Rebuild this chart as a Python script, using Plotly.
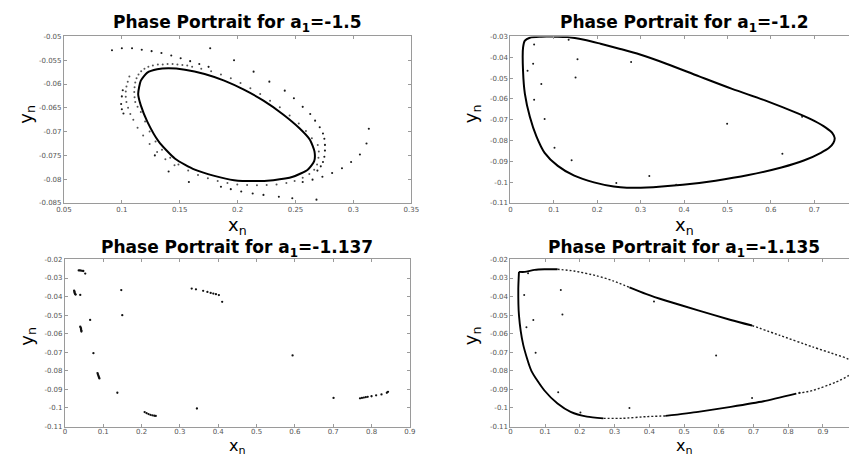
import plotly.graph_objects as go

W, H = 857, 459

# ---------------- data ----------------
TITLES = [
    "Phase Portrait for a<sub>1</sub>=-1.5",
    "Phase Portrait for a<sub>1</sub>=-1.2",
    "Phase Portrait for a<sub>1</sub>=-1.137",
    "Phase Portrait for a<sub>1</sub>=-1.135",
]

# a1 = -1.5 : invariant curve and the spiralling transient
TL_CURVE = [
    (0.1141, -0.0621), (0.1164, -0.0593), (0.1220, -0.0576), (0.1305, -0.0569),
    (0.1404, -0.0567), (0.1545, -0.0570), (0.1715, -0.0579), (0.1884, -0.0593),
    (0.2054, -0.0612), (0.2223, -0.0635), (0.2393, -0.0664), (0.2534, -0.0693),
    (0.2624, -0.0717), (0.2664, -0.0742), (0.2661, -0.0762), (0.2605, -0.0780),
    (0.2477, -0.0795), (0.2308, -0.0802), (0.2138, -0.0804), (0.1969, -0.0802),
    (0.1799, -0.0793), (0.1630, -0.0780), (0.1460, -0.0757), (0.1319, -0.0721),
    (0.1220, -0.0679), (0.1164, -0.0645), (0.1141, -0.0621),
]
TL_NEAR_RING = [
    (0.1116, -0.0638), (0.1110, -0.0628), (0.1107, -0.0617), (0.1110, -0.0607),
    (0.1116, -0.0597), (0.1127, -0.0588), (0.1144, -0.0580), (0.1167, -0.0573),
    (0.1195, -0.0568), (0.1229, -0.0564), (0.1268, -0.0561), (0.1311, -0.0559),
    (0.1353, -0.0559), (0.1395, -0.0558), (0.1438, -0.0558), (0.1480, -0.0559),
    (0.1523, -0.0560), (0.1565, -0.0561), (0.1607, -0.0564), (0.1686, -0.0568),
    (0.1771, -0.0573), (0.1856, -0.0580), (0.1941, -0.0588), (0.2025, -0.0598),
    (0.2110, -0.0609), (0.2195, -0.0621), (0.2280, -0.0635), (0.2364, -0.0649),
    (0.2449, -0.0666), (0.2528, -0.0683), (0.2590, -0.0699), (0.2641, -0.0714),
    (0.2692, -0.0728), (0.2701, -0.0742), (0.2698, -0.0755), (0.2686, -0.0769),
    (0.2661, -0.0780), (0.2619, -0.0789), (0.2562, -0.0797), (0.2492, -0.0804),
    (0.2421, -0.0808), (0.2336, -0.0811), (0.2251, -0.0812), (0.2167, -0.0813),
    (0.2082, -0.0812), (0.1997, -0.0811), (0.1912, -0.0808), (0.1828, -0.0804),
    (0.1743, -0.0798), (0.1658, -0.0791), (0.1573, -0.0782), (0.1489, -0.0769),
    (0.1418, -0.0755), (0.1347, -0.0738), (0.1291, -0.0721), (0.1240, -0.0700),
    (0.1201, -0.0679), (0.1164, -0.0659), (0.1136, -0.0648),
]
TL_MID_RING = [
    (0.1065, -0.0584), (0.1051, -0.0595), (0.1040, -0.0605), (0.1034, -0.0616),
    (0.1034, -0.0627), (0.1040, -0.0638), (0.1054, -0.0650), (0.1073, -0.0663),
    (0.1099, -0.0675), (0.1136, -0.0692), (0.1184, -0.0708), (0.1240, -0.0726),
    (0.1305, -0.0743), (0.1376, -0.0758), (0.1455, -0.0771),
]
TL_OUTER = [
    (0.0915, -0.0529), (0.1000, -0.0525), (0.1088, -0.0525), (0.1172, -0.0528),
    (0.1257, -0.0531), (0.1342, -0.0535), (0.1427, -0.0540), (0.1508, -0.0546),
    (0.1590, -0.0552), (0.1669, -0.0558), (0.1749, -0.0564),
    (0.1763, -0.0525), (0.1969, -0.0550), (0.2138, -0.0574), (0.2274, -0.0595),
    (0.2407, -0.0614), (0.2486, -0.0630), (0.2562, -0.0648), (0.2627, -0.0663),
    (0.2669, -0.0677), (0.2709, -0.0691), (0.2737, -0.0704), (0.2749, -0.0715),
    (0.2754, -0.0728), (0.2754, -0.0740), (0.2749, -0.0753), (0.2737, -0.0764),
    (0.2718, -0.0773), (0.2689, -0.0782),
    (0.3133, -0.0694), (0.3113, -0.0725), (0.3056, -0.0748), (0.2980, -0.0764),
    (0.2901, -0.0777), (0.2816, -0.0787), (0.2732, -0.0795), (0.2647, -0.0801),
    (0.2562, -0.0806),
    (0.2681, -0.0843), (0.2472, -0.0840), (0.2356, -0.0837), (0.2223, -0.0833),
    (0.2130, -0.0830), (0.2031, -0.0826), (0.1941, -0.0821), (0.1856, -0.0816),
    (0.1285, -0.0750), (0.1404, -0.0784), (0.1579, -0.0806),
    (0.1008, -0.0613), (0.1000, -0.0626), (0.0994, -0.0642), (0.1000, -0.0653),
    (0.1014, -0.0662),
]

# a1 = -1.2
TR_CURVE = [
    (0.0333, -0.0320), (0.0447, -0.0306), (0.0712, -0.0301), (0.1015, -0.0301),
    (0.1318, -0.0303), (0.1697, -0.0316), (0.2076, -0.0335), (0.2530, -0.0360),
    (0.2985, -0.0387), (0.3591, -0.0431), (0.4348, -0.0492), (0.5106, -0.0552),
    (0.5864, -0.0607), (0.6621, -0.0670), (0.7000, -0.0706), (0.7265, -0.0738),
    (0.7417, -0.0764), (0.7470, -0.0788), (0.7439, -0.0812), (0.7341, -0.0835),
    (0.7152, -0.0859), (0.6773, -0.0895), (0.6242, -0.0930), (0.5485, -0.0966),
    (0.4727, -0.0993), (0.3970, -0.1013), (0.3288, -0.1024), (0.2682, -0.1027),
    (0.2379, -0.1021), (0.1924, -0.1001), (0.1470, -0.0969), (0.1091, -0.0922),
    (0.0788, -0.0859), (0.0598, -0.0780), (0.0447, -0.0686), (0.0333, -0.0576),
    (0.0290, -0.0465), (0.0290, -0.0355), (0.0333, -0.0320),
]
TR_DOTS = [
    (0.0545, -0.0339), (0.0523, -0.0431), (0.0394, -0.0465), (0.0712, -0.0528),
    (0.1545, -0.0410), (0.1500, -0.0497), (0.2780, -0.0423), (0.4992, -0.0720),
    (0.6720, -0.0686), (0.6265, -0.0864), (0.0545, -0.0604), (0.0788, -0.0697),
    (0.1015, -0.0835), (0.1409, -0.0895), (0.2439, -0.1004), (0.3200, -0.0970),
    (0.3818, -0.1013), (0.1341, -0.0316),
]

# a1 = -1.137 : scattered clusters
BL_POINTS = [
    (0.036, -0.0259), (0.039, -0.0259), (0.042, -0.0260), (0.045, -0.0261),
    (0.048, -0.0262), (0.053, -0.0276),
    (0.024, -0.0368), (0.025, -0.0373), (0.025, -0.0378), (0.026, -0.0383),
    (0.027, -0.0387), (0.028, -0.0389), (0.040, -0.0391),
    (0.040, -0.0562), (0.041, -0.0567), (0.042, -0.0572), (0.042, -0.0578),
    (0.043, -0.0583), (0.043, -0.0588),
    (0.0658, -0.0526), (0.0744, -0.0705),
    (0.085, -0.0812), (0.086, -0.0818), (0.087, -0.0824), (0.088, -0.0830),
    (0.089, -0.0836), (0.090, -0.0841),
    (0.1368, -0.0918),
    (0.208, -0.1022), (0.213, -0.1028), (0.218, -0.1033), (0.223, -0.1037),
    (0.228, -0.1040), (0.233, -0.1042), (0.237, -0.1043),
    (0.147, -0.0365), (0.1496, -0.0500), (0.3444, -0.1003),
    (0.3308, -0.0357), (0.3419, -0.0361), (0.3607, -0.0369), (0.3718, -0.0375),
    (0.3803, -0.0380), (0.3872, -0.0384), (0.3940, -0.0387), (0.4017, -0.0392),
    (0.4103, -0.0428),
    (0.594, -0.0717), (0.7009, -0.0946),
    (0.770, -0.0948), (0.775, -0.0946), (0.780, -0.0944), (0.785, -0.0942),
    (0.790, -0.0940), (0.800, -0.0937), (0.812, -0.0932), (0.826, -0.0927),
    (0.840, -0.0918), (0.843, -0.0913),
]

# a1 = -1.135
BR_CURVE = [
    (0.0245, -0.0267), (0.0414, -0.0267), (0.0697, -0.0256), (0.0979, -0.0253),
    (0.1356, -0.0253), (0.1827, -0.0262), (0.2486, -0.0288), (0.2957, -0.0315),
    (0.3427, -0.0350), (0.3898, -0.0385), (0.4463, -0.0421), (0.5405, -0.0474),
    (0.6347, -0.0526), (0.6959, -0.0556), (0.7759, -0.0609), (0.8701, -0.0671),
    (0.9360, -0.0712), (0.9736, -0.0738), (0.9950, -0.0785), (0.9736, -0.0826),
    (0.9360, -0.0862), (0.8701, -0.0906), (0.8230, -0.0923), (0.7288, -0.0964),
    (0.6347, -0.0994), (0.5405, -0.1021), (0.4463, -0.1043), (0.3898, -0.1047),
    (0.3239, -0.1056), (0.2674, -0.1056), (0.2203, -0.1047), (0.1733, -0.1021),
    (0.1356, -0.0976), (0.0979, -0.0906), (0.0603, -0.0800), (0.0367, -0.0659),
    (0.0245, -0.0500), (0.0226, -0.0359), (0.0245, -0.0267),
]
# which stretches of BR_CURVE look solid / sparsely dotted (index ranges)
BR_SOLID = [(0, 4), (8, 13), (22, 26), (29, 38)]
BR_DOTTED = [(4, 8), (13, 22), (26, 29)]
BR_DOTS = [
    (0.0508, -0.0274), (0.0395, -0.0391), (0.0460, -0.0565), (0.0659, -0.0526),
    (0.0725, -0.0703), (0.1450, -0.0364), (0.1497, -0.0496), (0.1375, -0.0915),
    (0.2015, -0.1024), (0.3427, -0.1000), (0.4134, -0.0426), (0.5923, -0.0717),
    (0.6959, -0.0946), (0.8324, -0.0918),
]

TL_XTICKS = [0.05, 0.1, 0.15, 0.2, 0.25, 0.3, 0.35]
TL_XTEXT = ["0.05", "0.1", "0.15", "0.2", "0.25", "0.3", "0.35"]
TL_YTICKS = [-0.085, -0.08, -0.075, -0.07, -0.065, -0.06, -0.055, -0.05]
TL_YTEXT = ["-0.085", "-0.08", "-0.075", "-0.07", "-0.065", "-0.06", "-0.055", "-0.05"]
TR_XTICKS = [0, 0.1, 0.2, 0.3, 0.4, 0.5, 0.6, 0.7]
TR_XTEXT = ["0", "0.1", "0.2", "0.3", "0.4", "0.5", "0.6", "0.7"]
TR_YTICKS = [-0.11, -0.1, -0.09, -0.08, -0.07, -0.06, -0.05, -0.04, -0.03]
TR_YTEXT = ["-0.11", "-0.1", "-0.09", "-0.08", "-0.07", "-0.06", "-0.05", "-0.04", "-0.03"]
B_XTICKS = [0, 0.1, 0.2, 0.3, 0.4, 0.5, 0.6, 0.7, 0.8, 0.9]
B_XTEXT = ["0", "0.1", "0.2", "0.3", "0.4", "0.5", "0.6", "0.7", "0.8", "0.9"]
B_YTICKS = [-0.11, -0.1, -0.09, -0.08, -0.07, -0.06, -0.05, -0.04, -0.03, -0.02]
B_YTEXT = ["-0.11", "-0.1", "-0.09", "-0.08", "-0.07", "-0.06", "-0.05", "-0.04", "-0.03", "-0.02"]

# ---------------- styling ----------------
FONT = "DejaVu Sans"
AXCOL = "#9a9a9a"
DOTCOL = "#1a1a1a"


def xs(pts):
    return [p[0] for p in pts]


def ys(pts):
    return [p[1] for p in pts]


def px_x(p):
    return p / W


def px_y(p):
    return 1 - p / H


fig = go.Figure()


def curve(pts, xa, ya, width=2.0, dash=None, color="black", smooth=0.6):
    fig.add_trace(go.Scatter(
        x=xs(pts), y=ys(pts), xaxis=xa, yaxis=ya, mode="lines",
        line=dict(color=color, width=width, shape="spline", smoothing=smooth,
                  dash=dash),
        hoverinfo="skip", showlegend=False))


def dots(pts, xa, ya, size=2.2, color=DOTCOL):
    fig.add_trace(go.Scatter(
        x=xs(pts), y=ys(pts), xaxis=xa, yaxis=ya, mode="markers",
        marker=dict(color=color, size=size, line=dict(width=0)),
        hoverinfo="skip", showlegend=False))


# panel 1
dots(TL_OUTER, "x", "y", size=2.1)
dots(TL_MID_RING, "x", "y", size=2.0, color="#555")
dots(TL_NEAR_RING, "x", "y", size=2.0, color="#555")
curve(TL_CURVE, "x", "y", width=2.0)
# panel 2
curve(TR_CURVE, "x2", "y2", width=2.0, smooth=0.9)
dots(TR_DOTS, "x2", "y2", size=2.0)
# panel 3
dots(BL_POINTS, "x3", "y3", size=2.3, color="#111")
# panel 4
for a, b in BR_SOLID:
    curve(BR_CURVE[a:b + 1], "x4", "y4", width=1.9)
for a, b in BR_DOTTED:
    curve(BR_CURVE[a:b + 1], "x4", "y4", width=1.4, dash="2px,2px", color="#222")
dots(BR_DOTS, "x4", "y4", size=2.0)


def axis(domain, rng, tv, tt, anchor, mirror, standoff=0):
    return dict(
        domain=domain, range=rng, anchor=anchor,
        tickmode="array", tickvals=tv, ticktext=tt,
        showline=True, linecolor=AXCOL, linewidth=1, mirror=mirror,
        ticks="inside", ticklen=3, tickcolor=AXCOL, tickwidth=1,
        ticklabelstandoff=standoff,
        showgrid=False, zeroline=False, fixedrange=True,
        tickfont=dict(family=FONT, size=7, color="#555"),
    )


TOP_Y = [px_y(202.5), px_y(33)]
BOT_Y = [px_y(430), px_y(260)]
LEFT_X_T = [px_x(57), px_x(411)]
LEFT_X_B = [px_x(58), px_x(409.5)]
RIGHT_X = [px_x(512), 1.0]

fig.update_layout(
    width=W, height=H,
    margin=dict(l=0, r=0, t=0, b=0),
    paper_bgcolor="white", plot_bgcolor="white",
    showlegend=False, hovermode=False,
    font=dict(family=FONT, color="black"),
    xaxis=axis(LEFT_X_T, [0.05, 0.35], TL_XTICKS, TL_XTEXT, "y", "ticks"),
    yaxis=axis(TOP_Y, [-0.085, -0.05], TL_YTICKS, TL_YTEXT, "x", "ticks"),
    xaxis2=axis(RIGHT_X, [0, 0.78], TR_XTICKS, TR_XTEXT, "y2", "ticks"),
    yaxis2=axis(TOP_Y, [-0.11, -0.03], TR_YTICKS, TR_YTEXT, "x2", False),
    xaxis3=axis(LEFT_X_B, [0, 0.9], B_XTICKS, B_XTEXT, "y3", "ticks", -2),
    yaxis3=axis(BOT_Y, [-0.11, -0.02], B_YTICKS, B_YTEXT, "x3", "ticks"),
    xaxis4=axis(RIGHT_X, [0, 0.975], B_XTICKS, B_XTEXT, "y4", "ticks", -2),
    yaxis4=axis(BOT_Y, [-0.11, -0.02], B_YTICKS, B_YTEXT, "x4", False),
)

# titles and axis labels (centred on each full axes box)
centers_x = [233.5, 689, 233.5, 689]
title_y = [20, 20, 249, 249]
xlabel_top = [213, 213, 438.5, 438.5]
xlabel_size = [18, 18, 16, 16]
ylabel_x = [19, 473, 20, 473]
ylabel_y = [112, 112, 338, 338]
for i in range(4):
    fig.add_annotation(
        x=px_x(centers_x[i]), y=px_y(title_y[i]), xref="paper", yref="paper",
        text="<b>" + TITLES[i] + "</b>", showarrow=False,
        xanchor="center", yanchor="middle",
        font=dict(family=FONT, size=17, color="black"))
    fig.add_annotation(
        x=px_x(centers_x[i]), y=px_y(xlabel_top[i]), xref="paper", yref="paper",
        text="x<sub>n</sub>", showarrow=False, xanchor="center", yanchor="top",
        borderpad=0,
        font=dict(family=FONT, size=xlabel_size[i], color="black"))
    fig.add_annotation(
        x=px_x(ylabel_x[i]), y=px_y(ylabel_y[i]), xref="paper", yref="paper",
        text="y<sub>n</sub>", showarrow=False, textangle=-90,
        xanchor="center", yanchor="middle",
        font=dict(family=FONT, size=18, color="black"))

fig.write_html("out.html", config={"displayModeBar": False},
               post_script="document.body.style.margin='0';")
